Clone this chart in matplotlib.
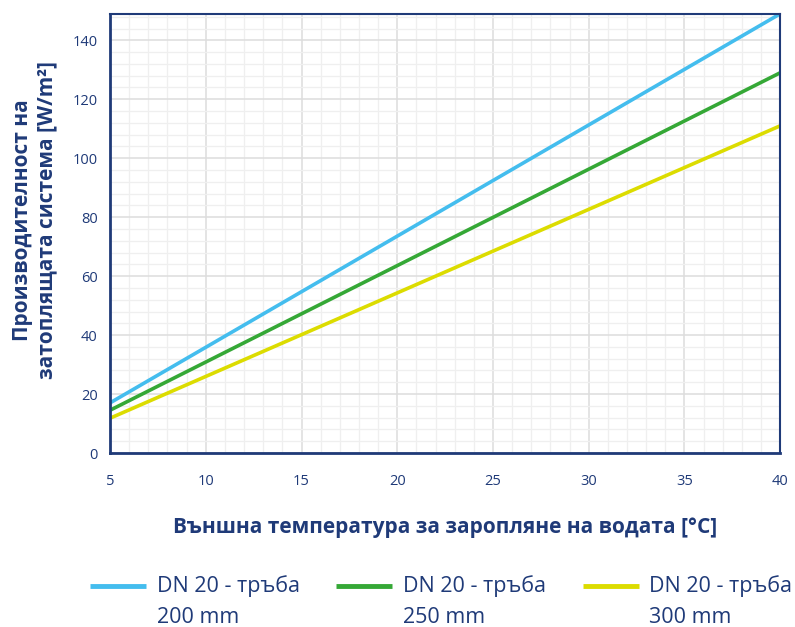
import matplotlib
matplotlib.use("Agg")
import matplotlib.pyplot as plt
import numpy as np
from matplotlib.ticker import MultipleLocator
from matplotlib.legend_handler import HandlerLine2D

plt.rcParams['font.family'] = ['Open Sans', 'DejaVu Sans']

temps = [5, 40]
series_labels = ["DN 20 - тръба\n200 mm", "DN 20 - тръба\n250 mm", "DN 20 - тръба\n300 mm"]
series_values = [
    [17, 149],
    [14.5, 129],
    [11.8, 111],
]
colors = ["#44bdee", "#35a836", "#dcdc00"]
navy = "#1f3a78"


class TopHandler(HandlerLine2D):
    def create_artists(self, legend, orig_handle, xdescent, ydescent, width, height, fontsize, trans):
        arts = super().create_artists(legend, orig_handle, xdescent, ydescent, width, height, fontsize, trans)
        for a in arts:
            a.set_ydata(np.asarray(a.get_ydata()) + fontsize * 0.72)
        return arts


fig = plt.figure(figsize=(7.95, 6.27), dpi=100)
ax = fig.add_axes([0.1384, 0.2775, 0.843, 0.7005])

lines = []
for vals, lab, c in zip(series_values, series_labels, colors):
    ln, = ax.plot(temps, vals, color=c, lw=2.6, label=lab, solid_capstyle='butt')
    lines.append(ln)

ax.set_xlim(5, 40)
ax.set_ylim(0, 149)
ax.xaxis.set_major_locator(MultipleLocator(5))
ax.xaxis.set_minor_locator(MultipleLocator(1))
ax.yaxis.set_major_locator(MultipleLocator(20))
ax.yaxis.set_minor_locator(MultipleLocator(4))
ax.grid(which='major', color='#dddddd', lw=1.1)
ax.grid(which='minor', color='#efefef', lw=0.9)
ax.set_axisbelow(True)

for s in ax.spines.values():
    s.set_color(navy)
    s.set_linewidth(2)
ax.spines['top'].set_linewidth(1.5)
ax.spines['right'].set_linewidth(1.5)

ax.tick_params(which='both', length=0, colors=navy, labelsize=10.5, pad=9)
ax.tick_params(axis='x', pad=15)

ax.set_xlabel("Външна температура за заропляне на водата [°C]", color=navy,
              fontsize=15, fontweight='bold', labelpad=20)
ax.set_ylabel("Производителност на\nзатоплящата система [W/m²]", color=navy,
              fontsize=15, fontweight='bold', linespacing=1.2)
ax.yaxis.set_label_coords(-0.079, 0.53)

leg = fig.legend(handles=lines, loc='lower center', ncol=3, frameon=False,
                 bbox_to_anchor=(0.555, -0.032),
                 fontsize=15.5, handlelength=2.6, columnspacing=1.7, handletextpad=0.5,
                 labelspacing=0.5, handler_map={matplotlib.lines.Line2D: TopHandler()})
for t in leg.get_texts():
    t.set_color(navy)
    t.set_linespacing(1.6)
for h in leg.get_lines():
    h.set_linewidth(3.5)

fig.savefig("out.png", dpi=100)
